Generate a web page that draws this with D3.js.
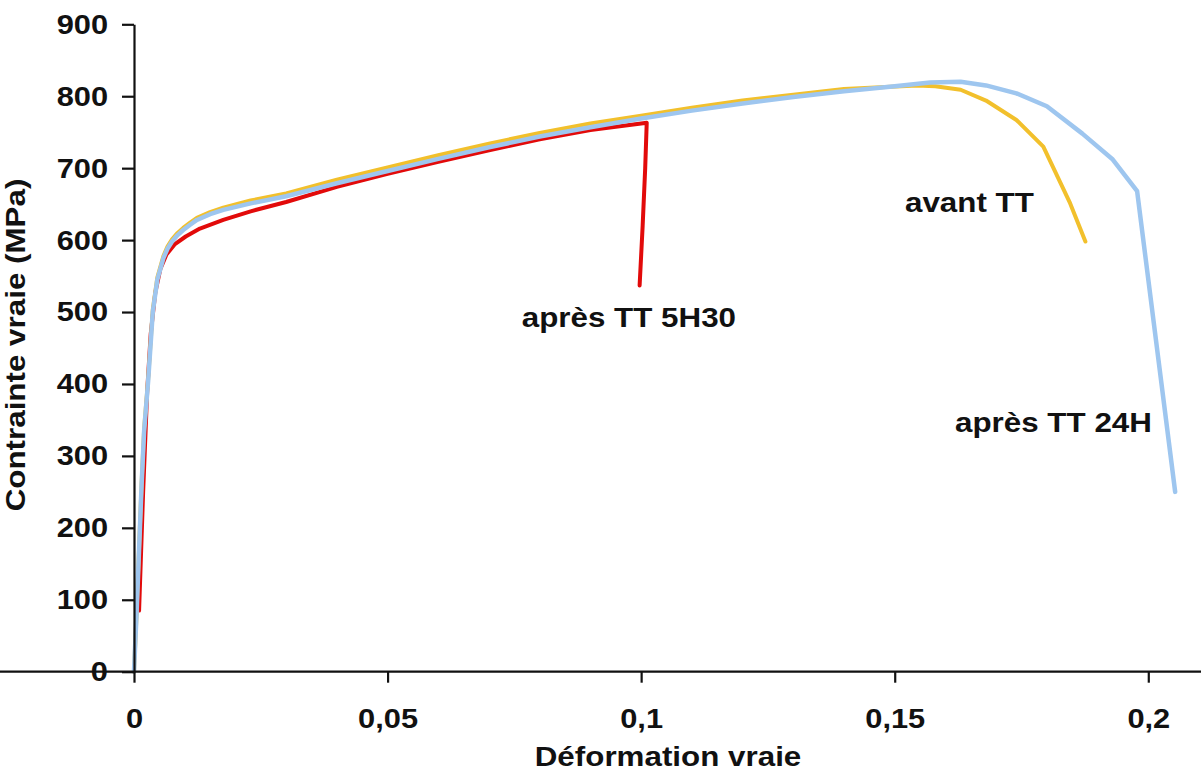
<!DOCTYPE html>
<html>
<head>
<meta charset="utf-8">
<script src="https://cdn.jsdelivr.net/npm/d3@7"></script>
<style>
  html, body { margin: 0; padding: 0; background: #fff; }
  svg { display: block; }
  text { font-family: "Liberation Sans", Arial, sans-serif; font-weight: bold; fill: #111; }
</style>
</head>
<body>
<svg id="chart" width="1201" height="774"></svg>
<script>
// ---- data (true strain, true stress MPa) ----
const seriesNames = ["après TT 5H30", "avant TT", "après TT 24H"];
const xTicks = [0, 0.05, 0.1, 0.15, 0.2];
const yTicks = [0, 100, 200, 300, 400, 500, 600, 700, 800, 900];

const redStrain = [0.001, 0.0018, 0.0026, 0.0033, 0.0042, 0.0052, 0.0064, 0.008, 0.0102, 0.013, 0.0176, 0.023, 0.03, 0.04, 0.05, 0.06, 0.07, 0.08, 0.09, 0.1, 0.1011, 0.1008, 0.1003, 0.0997];
const redStress = [85, 250, 390, 470, 527, 560, 580, 594, 605, 616, 628, 640, 653, 674, 692, 709, 725, 740, 753, 762, 763, 700, 620, 537];

const yellowStrain = [0, 0.0005, 0.001, 0.0015, 0.002, 0.0028, 0.0037, 0.0046, 0.0058, 0.0066, 0.0075, 0.0086, 0.0097, 0.011, 0.0124, 0.015, 0.0176, 0.023, 0.03, 0.04, 0.05, 0.06, 0.07, 0.08, 0.09, 0.1, 0.11, 0.12, 0.13, 0.14, 0.1544, 0.158, 0.163, 0.168, 0.174, 0.1793, 0.1846, 0.1876];
const yellowStress = [0, 80, 172, 262, 338, 408, 503, 548, 578, 591, 601, 610, 617, 624, 631, 639, 645, 655, 665, 684, 701, 718, 734, 749, 762, 773, 784, 794, 802, 810, 815, 814, 809, 794, 767, 730, 651, 598];

const blueStrain = [0, 0.0005, 0.001, 0.0015, 0.002, 0.0028, 0.0037, 0.0046, 0.0058, 0.0066, 0.0075, 0.0086, 0.0097, 0.011, 0.0124, 0.015, 0.0176, 0.023, 0.03, 0.04, 0.05, 0.06, 0.07, 0.08, 0.09, 0.1, 0.11, 0.12, 0.13, 0.14, 0.15, 0.157, 0.163, 0.168, 0.174, 0.18, 0.187, 0.193, 0.1978, 0.2053];
const blueStress = [0, 80, 170, 260, 335, 405, 500, 545, 575, 588, 598, 607, 614, 621, 628, 636, 642, 651, 661, 679, 696, 713, 729, 744, 757, 769, 780, 790, 799, 807, 814, 819, 820, 815, 804, 786, 748, 712, 668, 250];

const seriesColors = ["#e20a0a", "#f2c02c", "#9ec6ef"];

// ---- layout ----
const svg = d3.select("#chart");
const x = d3.scaleLinear().domain([0, 0.21]).range([134, 1199]);
const y = d3.scaleLinear().domain([0, 900]).range([671.7, 24.3]);

const locale = d3.formatLocale({decimal: ",", thousands: " ", grouping: [3], currency: ["", "€"]});
const fmt = v => v === 0 ? "0" : locale.format("~g")(v);

// curves
const line = d3.line().x(d => x(d[0])).y(d => y(d[1])).curve(d3.curveLinear);
const series = [
  {name: seriesNames[0], pts: d3.zip(redStrain, redStress), color: seriesColors[0], w: 4},
  {name: seriesNames[1], pts: d3.zip(yellowStrain, yellowStress), color: seriesColors[1], w: 4},
  {name: seriesNames[2], pts: d3.zip(blueStrain, blueStress), color: seriesColors[2], w: 4.5}
];
svg.append("g").selectAll("path").data(series).join("path")
  .attr("d", d => line(d.pts))
  .attr("fill", "none")
  .attr("stroke", d => d.color)
  .attr("stroke-width", d => d.w)
  .attr("stroke-linejoin", "round")
  .attr("stroke-linecap", "round");

// axes
const sx = 1.1;
const xAxis = svg.append("g").attr("transform", "translate(0,671.7)")
  .call(d3.axisBottom(x).tickValues(xTicks).tickFormat(fmt).tickSize(11).tickSizeOuter(0).tickPadding(25));
const yAxis = svg.append("g").attr("transform", "translate(134,0)")
  .call(d3.axisLeft(y).tickValues(yTicks).tickFormat(d3.format("d")).tickSize(12).tickSizeOuter(0).tickPadding(14));

[xAxis, yAxis].forEach(g => {
  g.select(".domain").attr("stroke", "#111").attr("stroke-width", 2.2);
  g.selectAll(".tick line").attr("stroke", "#111").attr("stroke-width", 2.2);
  g.selectAll("text").style("font-size", "28px").attr("fill", "#111");
});
xAxis.selectAll("text").attr("transform", `scale(${sx},1)`);
yAxis.selectAll("text").attr("x", -26 / sx).attr("transform", `scale(${sx},1)`);
// extend x axis to the right edge
xAxis.select(".domain").attr("d", `M0,0H1201`);

// axis titles
const st = 1.12;
svg.append("text").attr("transform", `translate(668,766) scale(${st},1)`)
  .attr("text-anchor", "middle").style("font-size", "28px").text("Déformation vraie");
svg.append("text").attr("transform", `translate(25,345) rotate(-90) scale(${st},1)`)
  .attr("text-anchor", "middle").style("font-size", "28px").text("Contrainte vraie (MPa)");

// series labels
const labels = [
  {t: seriesNames[0], x: 521.7, y: 326.7},
  {t: seriesNames[1], x: 905, y: 211.7},
  {t: seriesNames[2], x: 955, y: 432}
];
svg.append("g").selectAll("text").data(labels).join("text")
  .attr("transform", d => `translate(${d.x},${d.y}) scale(${st},1)`)
  .style("font-size", "28px").text(d => d.t);
</script>
</body>
</html>
